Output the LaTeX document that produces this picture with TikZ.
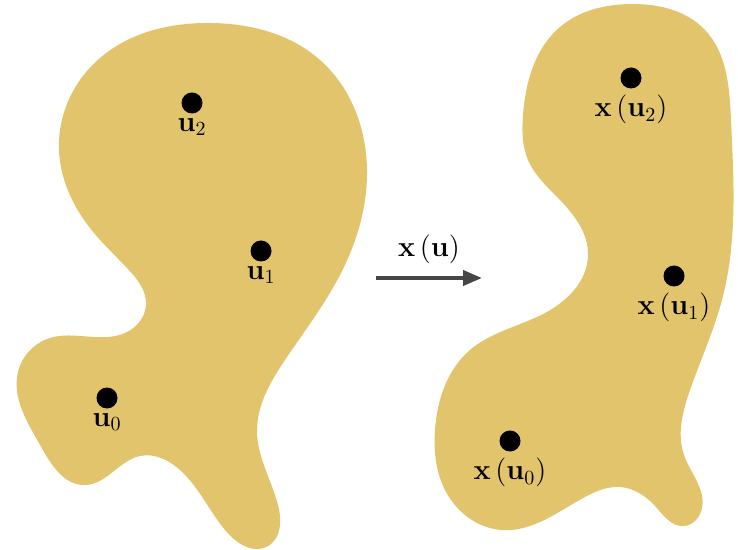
\documentclass[tikz,border=0pt]{standalone}
\usepackage{amsmath}
\usetikzlibrary{positioning,arrows.meta,hobby}

\definecolor{blobgold}{RGB}{225,196,108}
\definecolor{arrowgray}{RGB}{70,70,70}

\begin{document}
\begin{tikzpicture}[
        x=0.5pt, y=-0.5pt,
        font=\Large,
        blob/.style={fill=blobgold, draw=none},
        dot/.style={
            circle, fill=black, inner sep=0pt,
            minimum size=10.5pt
        },
        lbl/.style={inner sep=1pt},
        maparrow/.style={
            draw=arrowgray, line width=2pt,
            -{Triangle[length=9.5pt, width=7.5pt]}
        }
    ]

    % Frame
    \useasboundingbox (0,0) rectangle (738,550);

    % Domain on left
    \fill[blob] (59,150) to[closed, curve through={
        (100,58) .. (210,23) .. (320,60) .. (367,170)
        .. (340,275) .. (285,360) .. (257,432) .. (278,505)
        .. (268,546) .. (225,530) .. (180,470) .. (140,456)
        .. (85,485) .. (40,445) .. (18,372) .. (50,338)
        .. (125,333) .. (146,305) .. (127,268)}] (90,228);

    % Image on right
    \fill[blob] (523,115) to[closed, curve through={
        (560,27) .. (632,4) .. (705,30) .. (731,120)
        .. (722,300) .. (690,390) .. (684,455) .. (702,508)
        .. (684,526) .. (655,506) .. (620,487) .. (585,497)
        .. (502,530) .. (445,490) .. (435,430) .. (470,350)
        .. (545,313) .. (588,255) .. (560,200)}] (528,160);

    % Points u_i
    \node[dot] (u0) at (107,398) {};
    \node[dot] (u1) at (261,251) {};
    \node[dot] (u2) at (192,103) {};
    \node[lbl, below=1pt of u0] (lu0) {$\mathbf{u}_0$};
    \node[lbl, below=1pt of u1] (lu1) {$\mathbf{u}_1$};
    \node[lbl, below=1pt of u2] (lu2) {$\mathbf{u}_2$};

    % Points x(u_i)
    \node[dot] (x0) at (510,441) {};
    \node[dot] (x1) at (674,276) {};
    \node[dot] (x2) at (631,78) {};
    \node[lbl, below=2pt of x0] (lx0) {$\mathbf{x}\left(\mathbf{u}_0\right)$};
    \node[lbl, below=2pt of x1] (lx1) {$\mathbf{x}\left(\mathbf{u}_1\right)$};
    \node[lbl, below=2pt of x2] (lx2) {$\mathbf{x}\left(\mathbf{u}_2\right)$};

    % Mapping arrow
    \coordinate (mapfrom) at (376,278);
    \coordinate (mapto) at (482,278);
    \draw[maparrow] (mapfrom) -- (mapto)
        node[midway, above=3pt] (maplbl) {$\mathbf{x}\left(\mathbf{u}\right)$};

\end{tikzpicture}
\end{document}
